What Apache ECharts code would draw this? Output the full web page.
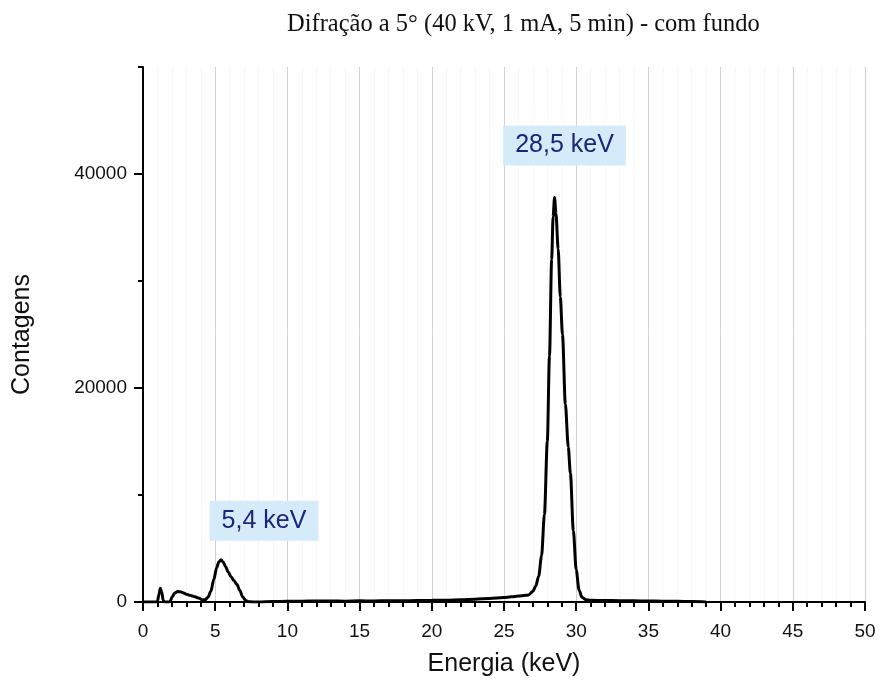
<!DOCTYPE html>
<html>
<head>
<meta charset="utf-8">
<script src="https://cdn.jsdelivr.net/npm/echarts@6/dist/echarts.min.js"></script>
<style>
  html, body { margin: 0; padding: 0; background: #fff; }
  #chart { width: 880px; height: 683px; }
</style>
</head>
<body>
<div id="chart"></div>
<script>
// Espectro de energia: energia (keV) e contagens correspondentes
const energia = [
  0.0, 0.5, 0.9, 1.0, 1.1, 1.2, 1.3, 1.4, 1.5, 1.8, 1.9, 2.0, 2.2, 2.4, 2.6, 2.8,
  3.0, 3.3, 3.6, 3.9, 4.1, 4.3, 4.5, 4.7, 4.9, 5.1, 5.25, 5.4, 5.55, 5.7, 5.9, 6.1,
  6.3, 6.5, 6.7, 6.9, 7.1, 7.3, 7.6, 8.0, 9.0, 10, 11, 12, 13, 14, 15, 16, 17, 18,
  19, 20, 21, 22, 23, 24, 25, 25.5, 26, 26.5, 26.7, 27.0, 27.2, 27.4, 27.6, 27.8,
  28.0, 28.15, 28.3, 28.4, 28.5, 28.6, 28.75, 28.9, 29.05, 29.25, 29.45, 29.6, 29.8,
  30.0, 30.2, 30.4, 30.7, 31, 32, 33, 34, 35, 36, 37, 38, 39
];
const contagens = [
  0, 0, 0, 50, 700, 1280, 900, 150, 0, 0, 100, 450, 850, 980, 950, 850,
  730, 600, 480, 350, 200, 200, 450, 1000, 2100, 3200, 3750, 3950, 3750, 3350, 2800, 2350,
  2000, 1650, 1100, 500, 150, 30, 0, 0, 40, 60, 80, 90, 100, 80, 110, 100, 120, 110,
  140, 160, 170, 220, 260, 330, 420, 480, 560, 620, 650, 1000, 1500, 2400, 4300, 8200,
  15000, 23000, 32000, 36000, 37800, 36300, 33000, 28500, 25000, 18500, 14500, 12000, 6700,
  3000, 1100, 450, 200, 160, 140, 120, 110, 100, 80, 60, 40, 0
];

// Picos identificados (posição em keV)
const picos = [5.4, 28.5];
const picoOffsets = [[43, -39], [10, -52]];

const xTicks = [0, 5, 10, 15, 20, 25, 30, 35, 40, 45, 50];
const yTicksMaior = [0, 20000, 40000];
const yTicksMenor = [10000, 30000, 50000];

const titulo = 'Difração a 5° (40 kV, 1 mA, 5 min) - com fundo';

const pontos = energia.map((e, i) => [e, contagens[i]]);

function contagemEm(e) {
  const i = energia.indexOf(e);
  return contagens[i];
}

const marcas = picos.map((p, k) => ({
  coord: [p, contagemEm(p)],
  label: {
    offset: picoOffsets[k],
    formatter: p.toFixed(1).replace('.', ',') + ' keV'
  }
}));

const sans = '"Liberation Sans", Arial, sans-serif';

const chart = echarts.init(document.getElementById('chart'), null, { renderer: 'canvas' });
chart.setOption({
  animation: false,
  backgroundColor: '#ffffff',
  title: {
    text: titulo,
    left: 282,
    top: 7,
    textStyle: {
      fontFamily: '"Liberation Serif", "Times New Roman", serif',
      fontWeight: 'normal',
      fontSize: 24.5,
      color: '#111'
    }
  },
  grid: { left: 143, right: 15, top: 67, bottom: 81, containLabel: false },
  xAxis: {
    type: 'value',
    min: 0,
    max: 50,
    interval: 5,
    name: 'Energia (keV)',
    nameLocation: 'middle',
    nameGap: 50,
    nameTextStyle: { fontFamily: sans, fontSize: 25, color: '#111' },
    axisLine: { show: true, onZero: false, lineStyle: { color: '#000', width: 2 } },
    axisTick: { show: true, inside: false, length: 9, lineStyle: { color: '#000', width: 2 } },
    minorTick: { show: true, splitNumber: 5, length: 5, lineStyle: { color: '#000', width: 2 } },
    axisLabel: {
      customValues: xTicks,
      margin: 20,
      fontFamily: sans,
      fontSize: 19,
      color: '#111'
    },
    splitLine: { show: true, lineStyle: { color: '#d2d2d2', width: 1 } },
    minorSplitLine: { show: true, lineStyle: { color: '#f0f0f0', width: 1, type: 'dotted' } }
  },
  yAxis: [
    {
      type: 'value',
      min: 0,
      max: 50000,
      interval: 10000,
      name: 'Contagens',
      nameLocation: 'middle',
      nameGap: 108,
      nameRotate: 90,
      nameTextStyle: { fontFamily: sans, fontSize: 25, color: '#111' },
      axisLine: { show: true, lineStyle: { color: '#000', width: 2 } },
      axisTick: { show: true, customValues: yTicksMaior, length: 9, lineStyle: { color: '#000', width: 2 } },
      axisLabel: {
        customValues: yTicksMaior,
        formatter: (v) => String(v),
        margin: 16,
        fontFamily: sans,
        fontSize: 19,
        color: '#111'
      },
      splitLine: { show: false }
    },
    {
      type: 'value',
      min: 0,
      max: 50000,
      interval: 10000,
      position: 'left',
      axisLine: { show: false },
      axisTick: { show: true, customValues: yTicksMenor, length: 5, lineStyle: { color: '#000', width: 2 } },
      axisLabel: { show: false },
      splitLine: { show: false }
    }
  ],
  series: [{
    type: 'line',
    data: pontos,
    yAxisIndex: 0,
    showSymbol: false,
    smooth: 0.3,
    smoothMonotone: 'x',
    lineStyle: { color: '#000', width: 3 },
    z: 3,
    markPoint: {
      symbol: 'rect',
      symbolSize: 0,
      silent: true,
      label: {
        show: true,
        position: 'inside',
        fontFamily: sans,
        fontSize: 25,
        color: '#1c2478',
        backgroundColor: '#d5ebfa',
        padding: [8, 12, 7, 12]
      },
      data: marcas
    }
  }]
});
</script>
</body>
</html>
